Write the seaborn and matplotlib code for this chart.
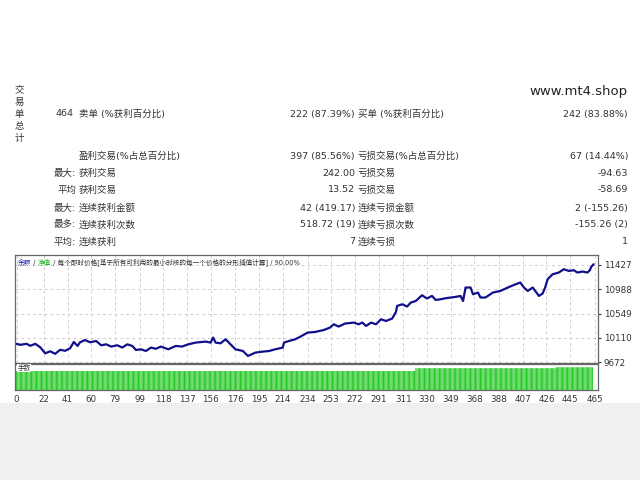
import numpy as np
import pandas as pd
import matplotlib
matplotlib.use("Agg")
import matplotlib.pyplot as plt
import seaborn as sns

# balance curve (trade number -> balance)
trade_no = [0, 3, 8, 11, 15, 19, 23, 27, 31, 35, 39, 43, 46, 49, 51, 55, 59, 64, 68, 72,
            76, 81, 85, 89, 93, 96, 100, 104, 108, 112, 116, 122, 128, 133, 138, 144, 152, 156, 158, 160,
            164, 168, 172, 176, 182, 186, 192, 198, 203, 208, 214, 215, 219, 224, 228, 234, 240, 247, 252, 255,
            259, 264, 271, 275, 278, 281, 285, 289, 293, 297, 302, 305, 306, 310, 314, 317, 321, 326, 330, 334,
            337, 341, 345, 349, 353, 357, 359, 361, 365, 367, 371, 373, 377, 383, 389, 395, 400, 405, 408, 411,
            415, 417, 420, 423, 425, 427, 431, 436, 440, 444, 448, 451, 455, 459, 461, 462, 464]
balance = [10000, 9983, 10001, 9965, 10001, 9938, 9829, 9866, 9820, 9893, 9875, 9920, 10034, 9962, 10029, 10070, 10029, 10052, 9974, 9992,
           9951, 9974, 9933, 9992, 9962, 9889, 9902, 9871, 9933, 9911, 9951, 9902, 9962, 9951, 9992, 10023, 10041, 10023, 10114, 10023,
           10010, 10083, 9992, 9902, 9871, 9781, 9842, 9860, 9871, 9902, 9933, 10023, 10052, 10083, 10128, 10204, 10215, 10251, 10295, 10354,
           10313, 10367, 10385, 10354, 10385, 10324, 10385, 10354, 10445, 10414, 10458, 10577, 10686, 10716, 10675, 10747, 10776, 10879, 10820, 10867,
           10794, 10807, 10825, 10838, 10849, 10867, 10776, 11019, 11019, 10897, 10928, 10838, 10838, 10928, 10957, 11019, 11066, 11109, 11019, 10957,
           11019, 10957, 10867, 10911, 11019, 11169, 11259, 11290, 11350, 11319, 11332, 11290, 11308, 11290, 11332, 11392, 11440]

# lot size per trade, given as runs of equal size
lot_sizes = [0.10, 0.115, 0.12]
lot_runs = [321, 113, 30]

y_ticks = [9672, 10110, 10549, 10988, 11427]
x_ticks = [0, 22, 41, 60, 79, 99, 118, 137, 156, 176, 195, 214, 234, 253, 272, 291,
           311, 330, 349, 368, 388, 407, 426, 445, 465]

# report table: (left note, label, value, label, value)
rows = [
    ("", "盈利交易(%占总百分比)", "397 (85.56%)", "亏损交易(%占总百分比)", "67 (14.44%)"),
    ("最大:", "获利交易", "242.00", "亏损交易", "-94.63"),
    ("平均", "获利交易", "13.52", "亏损交易", "-58.69"),
    ("最大:", "连续获利金额", "42 (419.17)", "连续亏损金额", "2 (-155.26)"),
    ("最多:", "连续获利次数", "518.72 (19)", "连续亏损次数", "-155.26 (2)"),
    ("平均:", "连续获利", "7", "连续亏损", "1"),
]
row_y = [156, 173, 190, 208, 225, 242]

sns.set_style("white")
plt.rcParams['font.family'] = ['DejaVu Sans', 'Noto Sans CJK SC']

W, H = 640, 480
fig = plt.figure(figsize=(6.4, 4.8), dpi=100)
fig.patch.set_facecolor("white")

def fx(px):
    return px / W

def fy(py):
    return 1 - py / H

txt = "#333333"
fs = 6.8

# grey footer band
fig.patches.append(plt.Rectangle((0, 0), 1, fy(403), transform=fig.transFigure,
                                 color="#f0f0f0", zorder=0))

# header
fig.text(fx(628), fy(91), "www.mt4.shop", ha="right", va="center", fontsize=9.5, color="#222222")
for i, ch in enumerate("交易单总计"):
    fig.text(fx(19), fy(90 + i * 12.2), ch, ha="center", va="center", fontsize=fs, color=txt)

fig.text(fx(74), fy(114), "464", ha="right", va="center", fontsize=fs, color=txt)
fig.text(fx(79), fy(114), "卖单 (%获利百分比)", ha="left", va="center", fontsize=fs, color=txt)
fig.text(fx(355), fy(114), "222 (87.39%)", ha="right", va="center", fontsize=fs, color=txt)
fig.text(fx(358), fy(114), "买单 (%获利百分比)", ha="left", va="center", fontsize=fs, color=txt)
fig.text(fx(628), fy(114), "242 (83.88%)", ha="right", va="center", fontsize=fs, color=txt)

for (note, l1, v1, l2, v2), yy in zip(rows, row_y):
    if note:
        fig.text(fx(76), fy(yy), note, ha="right", va="center", fontsize=fs, color=txt)
    fig.text(fx(79), fy(yy), l1, ha="left", va="center", fontsize=fs, color=txt)
    fig.text(fx(355), fy(yy), v1, ha="right", va="center", fontsize=fs, color=txt)
    fig.text(fx(358), fy(yy), l2, ha="left", va="center", fontsize=fs, color=txt)
    fig.text(fx(628), fy(yy), v2, ha="right", va="center", fontsize=fs, color=txt)

# balance chart
left, right = 15, 598
ax = fig.add_axes([fx(left), fy(363), fx(right - left), (363 - 255) / H])
df = pd.DataFrame({"trade": trade_no, "balance": balance})
sns.lineplot(data=df, x="trade", y="balance", ax=ax, color="#10108c", lw=1.6, zorder=3)
ax.set_xlim(-1.3, 467.5)
ax.set_ylim(9654, 11607)
ax.set_xticks(x_ticks)
ax.set_yticks(y_ticks)
ax.set_xticklabels([])
ax.yaxis.tick_right()
ax.tick_params(axis="y", labelsize=6.3, colors=txt, length=2, pad=2)
ax.tick_params(axis="x", length=0)
ax.grid(True, color="#cfcfcf", linestyle=(0, (3, 3)), lw=0.7)
ax.set_xlabel("")
ax.set_ylabel("")
for s in ax.spines.values():
    s.set_color("#666666")
    s.set_linewidth(0.9)

# legend line at the top of the chart
lx, ly = 0.005, 0.935
parts = [("余额", "#1c1ca0"), (" / ", txt), ("净值", "#19b019"),
         (" / 每个即时价格[基于所有可利用的最小时段的每一个价格的分形插值计算] / 90.00%", txt)]
t = None
for s, c in parts:
    if t is None:
        t = ax.text(lx, ly, s, transform=ax.transAxes, fontsize=4.8, color=c, va="center", ha="left")
    else:
        t = ax.annotate(s, xycoords=t, xy=(1, 0), va="bottom", ha="left", fontsize=4.8, color=c)

# lots strip
ax2 = fig.add_axes([fx(left), fy(390), fx(right - left), (390 - 364) / H])
lots = np.repeat(lot_sizes, lot_runs)
bars = ax2.bar(np.arange(len(lots)), lots, width=0.82, color="#22c822", edgecolor="none")
for b in bars:
    b.set_snap(False)
ax2.set_xlim(-1.3, 467.5)
ax2.set_ylim(0, 0.137)
ax2.set_yticks([])
ax2.set_xticks(x_ticks)
ax2.set_xticklabels([str(v) for v in x_ticks])
ax2.tick_params(axis="x", labelsize=6.3, colors=txt, length=2, pad=1.5)
ax2.grid(False)
for s in ax2.spines.values():
    s.set_color("#666666")
    s.set_linewidth(0.9)
ax2.text(0.004, 0.86, "手数", transform=ax2.transAxes, fontsize=4.8, color=txt,
         va="center", ha="left", bbox=dict(facecolor="white", edgecolor="none", pad=0.3))

fig.savefig("out.png", dpi=100, facecolor=fig.get_facecolor())
